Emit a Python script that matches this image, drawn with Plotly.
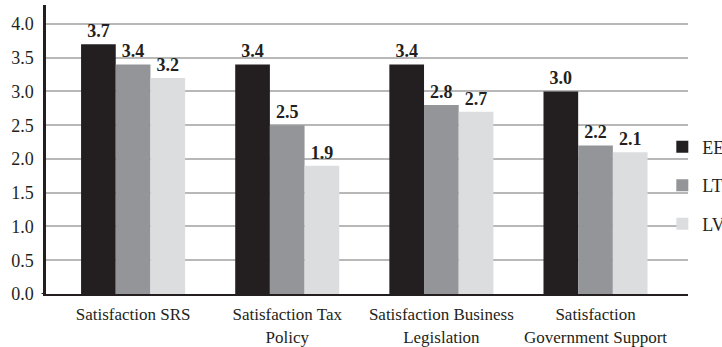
import plotly.graph_objects as go

categories = [
    "Satisfaction SRS",
    "Satisfaction Tax<br>Policy",
    "Satisfaction Business<br>Legislation",
    "Satisfaction<br>Government Support",
]
series_names = ["EE", "LT", "LV"]
ee_values = [3.7, 3.4, 3.4, 3.0]
lt_values = [3.4, 2.5, 2.8, 2.2]
lv_values = [3.2, 1.9, 2.7, 2.1]
y_ticks = [0.0, 0.5, 1.0, 1.5, 2.0, 2.5, 3.0, 3.5, 4.0]

colors = ["#231f20", "#939598", "#dcdddf"]
serif = "Liberation Serif"

fig = go.Figure()
for name, vals, col in zip(series_names, [ee_values, lt_values, lv_values], colors):
    fig.add_trace(go.Bar(
        name=name,
        x=categories,
        y=vals,
        marker=dict(color=col, line=dict(width=0)),
        text=[f"{v:.1f}" for v in vals],
        textposition="outside",
        cliponaxis=False,
        textfont=dict(family=serif, size=18, color="#231f20", weight="bold"),
        legendgroup=name,
    ))

fig.update_layout(
    width=722,
    height=347,
    margin=dict(l=46, r=34, t=5, b=53, autoexpand=False),
    paper_bgcolor="white",
    plot_bgcolor="white",
    barmode="group",
    bargap=0.325,
    bargroupgap=0,
    font=dict(family=serif, size=18, color="#231f20"),
    showlegend=True,
    legend=dict(
        x=0.960, xanchor="left",
        y=0.375, yanchor="middle",
        xref="paper", yref="paper",
        font=dict(family=serif, size=18, color="#231f20"),
        tracegroupgap=12,
        bgcolor="rgba(0,0,0,0)",
    ),
    xaxis=dict(
        type="category",
        range=[-0.565, 3.6],
        showline=True,
        linecolor="#231f20",
        linewidth=2,
        showgrid=False,
        ticks="",
        tickangle=0,
        ticklabelstandoff=4,
        tickfont=dict(family=serif, size=17, color="#231f20"),
    ),
    yaxis=dict(
        range=[0, 4.28],
        tickvals=y_ticks,
        ticktext=[f"{t:.1f}" for t in y_ticks],
        showline=True,
        linecolor="#231f20",
        linewidth=2.5,
        showgrid=True,
        gridcolor="#b8b8b8",
        gridwidth=1.5,
        zeroline=False,
        ticks="",
        ticklabelstandoff=6,
        tickfont=dict(family=serif, size=18, color="#231f20"),
    ),
)

# short extension of the y axis below the baseline and the tick at zero
fig.add_shape(type="line", xref="paper", yref="y", x0=0, x1=0, y0=0, y1=-0.12,
              line=dict(color="#231f20", width=2.5))
fig.add_shape(type="line", xref="paper", yref="y", x0=-0.007, x1=0, y0=0, y1=0,
              line=dict(color="#231f20", width=2))

fig.write_html("out.html")
